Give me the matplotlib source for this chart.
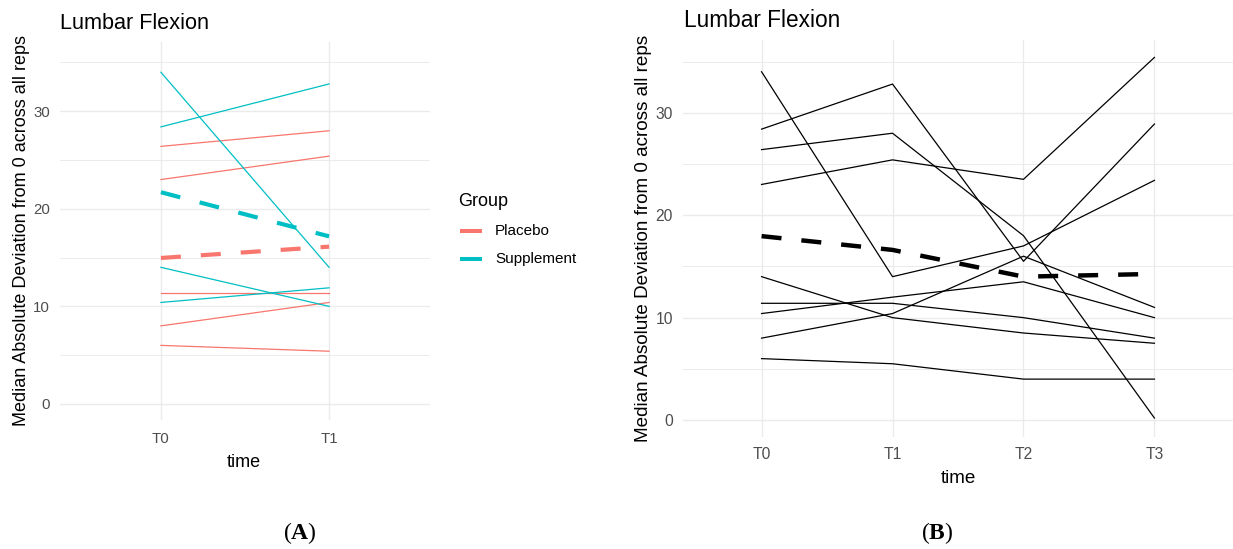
import matplotlib
matplotlib.use("Agg")
import matplotlib.pyplot as plt
from matplotlib.lines import Line2D
import numpy as np

# ---------------- data ----------------
times_A = ["T0", "T1"]
placebo_subjects = [
    [26.4, 28.0],
    [23.0, 25.4],
    [11.4, 11.4],
    [8.0, 10.4],
    [6.0, 5.4],
]
supplement_subjects = [
    [34.0, 14.0],
    [28.4, 32.8],
    [14.0, 10.0],
    [10.4, 11.9],
]

times_B = ["T0", "T1", "T2", "T3"]
subjects_B = [
    [34.0, 14.0, 17.0, 23.4],
    [28.4, 32.8, 15.5, 28.9],
    [26.4, 28.0, 18.0, 0.2],
    [23.0, 25.4, 23.5, 35.4],
    [14.0, 10.0, 8.5, 7.5],
    [11.4, 11.4, 10.0, 8.0],
    [10.4, 12.0, 13.5, 10.0],
    [8.0, 10.4, 16.0, 11.0],
    [6.0, 5.5, 4.0, 4.0],
]

groups = ["Placebo", "Supplement"]
group_colors = {"Placebo": "#F8766D", "Supplement": "#00BFC4"}

title_text = "Lumbar Flexion"
ylabel_text = "Median Absolute Deviation from 0 across all reps"
xlabel_text = "time"
yticks = [0, 10, 20, 30]
yminor = [5, 15, 25, 35]

# ---------------- layout ----------------
W, H = 1233, 549
DPI = 100
plt.rcParams["font.family"] = ["Liberation Sans", "DejaVu Sans"]
plt.rcParams["mathtext.fontset"] = "custom"
plt.rcParams["mathtext.rm"] = "Liberation Serif"
plt.rcParams["mathtext.bf"] = "Liberation Serif:bold"

fig = plt.figure(figsize=(W / DPI, H / DPI), dpi=DPI)
fig.patch.set_facecolor("white")


def fx(x):
    return x / W


def fy(y):
    return 1 - y / H


def rect(l, t, r, b):
    return [fx(l), fy(b), fx(r) - fx(l), fy(t) - fy(b)]


GRID = "#EBEBEB"
TICKC = "#4D4D4D"
YLIM = (-1.65, 37.1)


def style_axis(ax, n, scale):
    ax.set_xlim(0.4, n + 0.6)
    ax.set_ylim(*YLIM)
    for s in ax.spines.values():
        s.set_visible(False)
    ax.set_facecolor("white")
    for v in yticks:
        ax.axhline(v, color=GRID, lw=1.0, zorder=0)
    for v in yminor:
        ax.axhline(v, color=GRID, lw=0.7, zorder=0)
    for i in range(1, n + 1):
        ax.axvline(i, color=GRID, lw=1.0, zorder=0)
    ax.set_yticks(yticks)
    ax.set_yticklabels([str(v) for v in yticks])
    ax.tick_params(axis="both", length=0, colors=TICKC,
                   labelsize=10.8 * scale)
    ax.tick_params(axis="y", pad=7.2)


# ---------------- Panel A ----------------
axA = fig.add_axes(rect(60, 42, 430, 420))
style_axis(axA, 2, 1.0)
xA = np.arange(1, len(times_A) + 1)
axA.set_xticks(xA)
axA.set_xticklabels(times_A)
axA.tick_params(axis="x", pad=8.4)

for name, data in (("Placebo", placebo_subjects), ("Supplement", supplement_subjects)):
    for row in data:
        axA.plot(xA, row, color=group_colors[name], lw=0.9, zorder=2)
for name, data in (("Placebo", placebo_subjects), ("Supplement", supplement_subjects)):
    m = np.mean(np.array(data), axis=0)
    axA.plot(xA, m, color=group_colors[name], lw=3.0, dashes=(4.8, 4.8),
             dash_capstyle="butt", zorder=3)

fig.text(fx(60), fy(29), title_text, fontsize=15.6, ha="left", va="baseline",
         color="black")
fig.text(fx(22), fy(231), ylabel_text, fontsize=13, rotation=90,
         ha="center", va="center", color="black")
fig.text(fx(244), fy(467), xlabel_text, fontsize=13, ha="center",
         va="baseline", color="black")

# legend (manual)
fig.text(fx(458), fy(205.5), "Group", fontsize=13, ha="left", va="baseline",
         color="black")
for i, g in enumerate(groups):
    yk = 230.5 + i * 28.8
    fig.add_artist(Line2D([fx(460), fx(482)], [fy(yk), fy(yk)],
                          color=group_colors[g], lw=2.9,
                          solid_capstyle="butt"))
    fig.text(fx(495), fy(yk), g, fontsize=11, ha="left", va="center",
             color="black")

# ---------------- Panel B ----------------
sB = 1.044
axB = fig.add_axes(rect(683, 40, 1233, 437))
style_axis(axB, 4, sB)
xB = np.arange(1, len(times_B) + 1)
axB.set_xticks(xB)
axB.set_xticklabels(times_B)
axB.tick_params(axis="x", pad=7.4)
for row in subjects_B:
    axB.plot(xB, row, color="black", lw=0.9, zorder=2)
mB = np.mean(np.array(subjects_B), axis=0)
axB.plot(xB, mB, color="black", lw=3.2, dashes=(4.5, 4.5),
         dash_capstyle="butt", zorder=3)

fig.text(fx(684), fy(26.7), title_text, fontsize=15.6 * sB, ha="left",
         va="baseline", color="black")
fig.text(fx(643), fy(238.5), ylabel_text, fontsize=13 * sB, rotation=90,
         ha="center", va="center", color="black")
fig.text(fx(958), fy(483), xlabel_text, fontsize=13 * sB, ha="center",
         va="baseline", color="black")

# panel labels
fig.text(fx(299.5), fy(533), r"($\mathbf{A}$)", fontsize=17,
         family="Liberation Serif", ha="center", va="center", color="black")
fig.text(fx(937), fy(533), r"($\mathbf{B}$)", fontsize=17,
         family="Liberation Serif", ha="center", va="center", color="black")

fig.savefig("out.png", dpi=DPI, facecolor="white")
